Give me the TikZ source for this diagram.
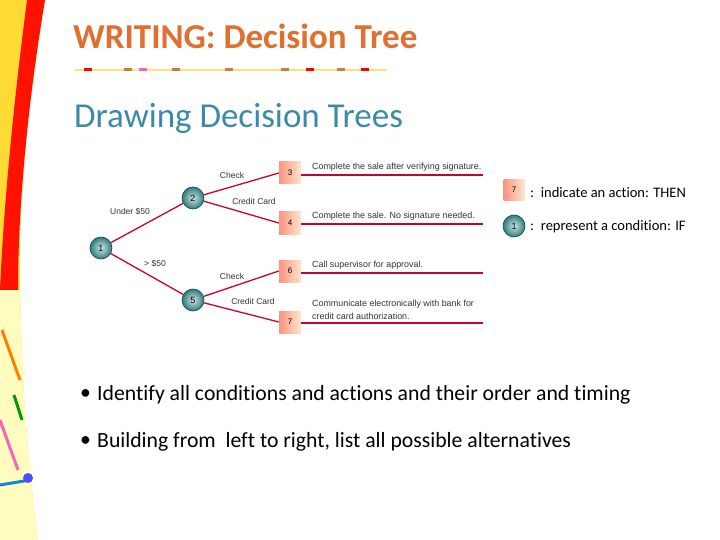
\documentclass[tikz,border=0pt]{standalone}
\usepackage{fontspec}
\setmainfont[Ligatures=NoCommon]{Carlito}
\newfontfamily\arialf{Liberation Sans}
\begin{document}
\begin{tikzpicture}[x=1pt,y=-1pt,
 cond/.style={circle,draw=teal!60!black,line width=0.6pt,minimum size=22pt,inner sep=0pt,shade,inner color=teal!20,outer color=teal!70!black!80,font=\fontsize{9}{9}\selectfont\arialf},
 act/.style={rectangle,minimum size=22pt,inner sep=0pt,shade,left color=orange!30!red!50,right color=orange!20,font=\fontsize{8}{8}\selectfont\arialf},
 edge/.style={draw=purple!80!red,line width=1.3pt},
 lab/.style={font=\fontsize{8.5}{9}\selectfont\arialf,text=black!80,inner sep=1pt},
 txt/.style={font=\fontsize{8.9}{9}\selectfont\arialf,text=black!80,anchor=south west,inner sep=1pt,align=left},
 bul/.style={font=\fontsize{21.7}{24}\selectfont,anchor=west,inner sep=0pt}]
\useasboundingbox (0,0) rectangle (720,540);
\fill[white] (0,0) rectangle (720,540);
% left border
\fill[yellow!70!orange!80] (0,0) -- (45,0) .. controls (25,120) and (18,220) .. (20,290) .. controls (22,400) and (30,480) .. (38,540) -- (0,540) -- cycle;
\fill[red!85!orange] (27,0) -- (45,0) .. controls (25,120) and (18,220) .. (18,290) -- (0,290) .. controls (4,200) and (14,100) .. (27,0) -- cycle;
\fill[yellow!25] (0,290) -- (20,290) .. controls (22,400) and (30,480) .. (38,540) -- (0,540) -- cycle;
\draw[orange,line width=3pt] (2,330) -- (20,380);
\draw[magenta!60,line width=3pt] (0,420) -- (18,470);
\draw[cyan!70!blue,line width=3pt] (0,485) -- (30,480);
\fill[blue!70] (28,478) circle (5);
\draw[green!60!black,line width=3pt] (14,395) -- (22,420);
% title
\node[anchor=base west,inner sep=0pt,text={rgb,255:red,224;green,112;blue,48},font=\fontsize{35}{36}\selectfont\bfseries] (title) at (73,49) {WRITING: Decision Tree};
\draw[yellow!60!orange!50,line width=2.5pt] (75,70) -- (387,70);
\foreach \x/\c in {88/red,128/brown,143/magenta!60,176/brown,229/brown,285/brown,310/red,341/brown,365/red}{\fill[\c] (\x-4,68.5) rectangle (\x+4,71.5);}
\node[anchor=base west,inner sep=0pt,text={rgb,255:red,58;green,138;blue,168},font=\fontsize{35}{36}\selectfont] (sub) at (74,128) {Drawing Decision Trees};
% tree
\node[cond] (n1) at (101,248) {1};
\node[cond] (n2) at (193,198) {2};
\node[cond] (n5) at (193,300) {5};
\node[act] (a3) at (290,173) {3};
\node[act] (a4) at (290,223) {4};
\node[act] (a6) at (290,271) {6};
\node[act] (a7) at (290,322) {7};
\draw[edge] (n1) -- (n2); \draw[edge] (n1) -- (n5);
\draw[edge] (n2) -- (a3.west); \draw[edge] (n2) -- (a4.west);
\draw[edge] (n5) -- (a6.west); \draw[edge] (n5) -- (a7.west);
\coordinate (e3) at (483,175); \coordinate (e4) at (483,224);
\coordinate (e6) at (483,273); \coordinate (e7) at (483,323);
\draw[edge] (a3.east|-e3) -- (e3); \draw[edge] (a4.east|-e4) -- (e4);
\draw[edge] (a6.east|-e6) -- (e6); \draw[edge] (a7.east|-e7) -- (e7);
\node[lab] at (232,175) {Check};
\node[lab] at (254,201) {Credit Card};
\node[lab] at (130,212) {Under \$50};
\node[lab] at (155,264) {> \$50};
\node[lab] at (232,276) {Check};
\node[lab] at (253,301) {Credit Card};
\node[txt] at (311,173) {Complete the sale after verifying signature.};
\node[txt] at (311,222) {Complete the sale. No signature needed.};
\node[txt] at (311,271) {Call supervisor for approval.};
\node[txt,font=\fontsize{8.9}{13}\selectfont\arialf] at (311,321) {Communicate electronically with bank for\\credit card authorization.};
% legend
\node[act,minimum size=21pt] (l7) at (514,190) {7};
\node[cond,minimum size=22pt] (l1) at (514,226) {1};
\node[anchor=west,font=\fontsize{14.5}{16}\selectfont,inner sep=0pt] at (530,193) {:\, indicate an action: THEN};
\node[anchor=west,font=\fontsize{14.5}{16}\selectfont,inner sep=0pt] at (530,227) {:\, represent a condition: IF};
% bullets
\node[bul] at (80,395) {•};
\node[bul] at (97,395) {Identify all conditions and actions and their order and timing};
\node[bul] at (80,442) {•};
\node[bul] at (97,442) {Building from \ left to right, list all possible alternatives};
\end{tikzpicture}
\end{document}
